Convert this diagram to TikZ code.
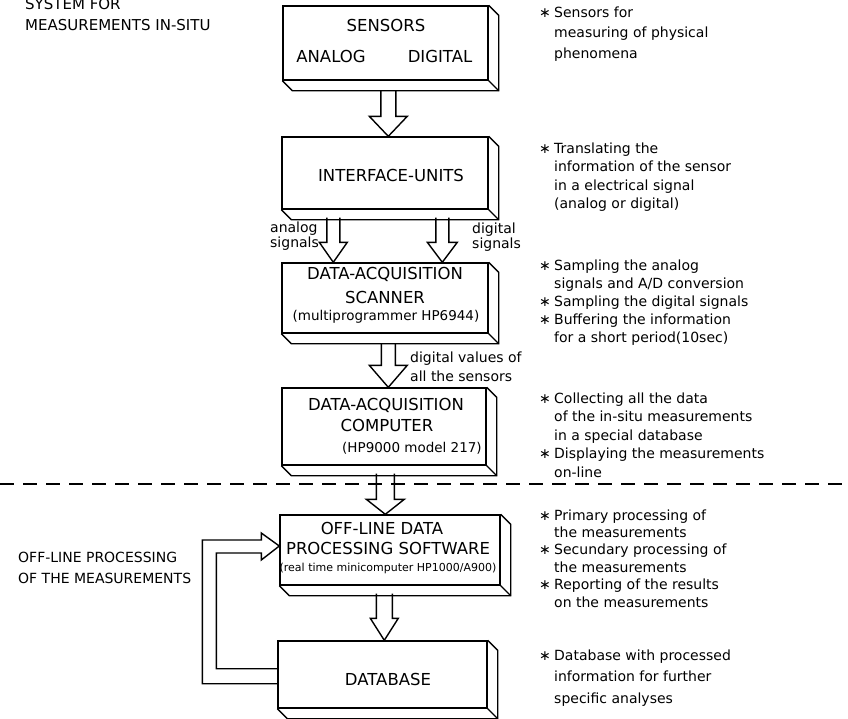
\documentclass[tikz,border=0pt]{standalone}
\usepackage{fontspec}
\setmainfont{DejaVu Sans}
\usetikzlibrary{calc}
\newcommand\Tfont{\fontsize{16.5}{18}\selectfont}
\newcommand\Sfont{\fontsize{13.5}{15}\selectfont}
\newcommand\bl{\makebox[15pt][l]{∗}}
\newcommand\ind{\hspace*{15pt}}
\tikzset{
  edge/.style={line width=1.4pt, line join=miter},
  boxnode/.style={draw, edge, rectangle, inner sep=0pt},
  blk/.style={draw, line width=1.4pt, line join=miter},
  lbl/.style={inner sep=0pt, anchor=base west, align=left},
  ctxt/.style={inner sep=0pt},
}
\newcommand\extrude[1]{%
  \draw[edge] (#1.north east) -- ++(10,10) -- ($(#1.south east)+(10,10)$) -- ($(#1.south west)+(10,10)$) -- (#1.south west);
  \draw[edge] (#1.south east) -- ++(10,10);}
% #1 shaft half width, #2 head half width, #3 head length, #4 start, #5 end
\newcommand\barrow[5]{%
  \draw[blk] let \p1=#4, \p2=#5 in
    (\x1-#1pt,\y1) -- (\x1-#1pt,\y2+#3pt) -- (\x1-#2pt,\y2+#3pt) -- (\x1,\y2)
    -- (\x1+#2pt,\y2+#3pt) -- (\x1+#1pt,\y2+#3pt) -- (\x1+#1pt,\y1);}
\begin{document}
\begin{tikzpicture}[x=1pt,y=-1pt]
\useasboundingbox (0,0) rectangle (848,718);
\clip (0,0) rectangle (848,718);
\fill[white] (0,0) rectangle (848,718);

% boxes
\node[boxnode, minimum width=205pt, minimum height=74pt] (sens) at (385.5,43) {};
\node[boxnode, minimum width=206pt, minimum height=72pt] (intf) at (385,173) {};
\node[boxnode, minimum width=206pt, minimum height=70pt] (scan) at (385,298) {};
\node[boxnode, minimum width=204pt, minimum height=77pt] (comp) at (384,426.5) {};
\node[boxnode, minimum width=220pt, minimum height=70pt] (off) at (390,550) {};
\node[boxnode, minimum width=209pt, minimum height=67pt] (db) at (382.5,674.5) {};
\extrude{sens}\extrude{intf}\extrude{scan}\extrude{comp}\extrude{off}\extrude{db}

% box texts
\node[ctxt] (sensT) at (386,25) {\Tfont SENSORS};
\node[ctxt] (sensA) at (331,56) {\Tfont ANALOG};
\node[ctxt] (sensD) at (440,56) {\Tfont DIGITAL};
\node[ctxt] (intfT) at (391,175) {\Tfont INTERFACE-UNITS};
\node[ctxt] (scanT1) at (385,274) {\Tfont DATA-ACQUISITION};
\node[ctxt] (scanT2) at (385,297) {\Tfont SCANNER};
\node[ctxt] (scanT3) at (386,317) {\Sfont (multiprogrammer HP6944)};
\node[ctxt] (compT1) at (386,405) {\Tfont DATA-ACQUISITION};
\node[ctxt] (compT2) at (387,425) {\Tfont COMPUTER};
\node[ctxt] (compT3) at (412,448) {\Sfont (HP9000 model 217)};
\node[ctxt] (offT1) at (382,528) {\Tfont OFF-LINE DATA};
\node[ctxt] (offT2) at (388,548) {\Tfont PROCESSING SOFTWARE};
\node[ctxt] (offT3) at (388,568) {\fontsize{11}{12}\selectfont (real time minicomputer HP1000/A900)};
\node[ctxt] (dbT) at (388,679) {\Tfont DATABASE};

% block arrows
\barrow{7.5}{19}{20}{($(sens.south west)+(106,10)$)}{(intf.north)}
\barrow{6.5}{14}{20}{($(intf.south west)+(52,8)$)}{(scan.north)}
\barrow{6.5}{15}{20}{($(intf.south west)+(161,8)$)}{(scan.north)}
\barrow{7}{19}{22}{($(scan.south west)+(107,10)$)}{(comp.north)}
\barrow{9}{19}{15}{($(comp.south west)+(104,8)$)}{(off.north)}
\barrow{8}{14}{22}{($(off.south west)+(105,8)$)}{(db.north)}

% feedback loop
\coordinate (fbtip) at ($(off.west)+(0,-4)$);
\coordinate (fbo) at ($(db.south west)+(0,-25)$);
\coordinate (fbi) at ($(db.south west)+(0,-40)$);
\draw[blk] (fbo) -- ++(-75,0) |- ($(fbtip)+(-18,-6)$) -- ++(0,-7) -- (fbtip)
  -- ++(-18,14) -- ++(0,-7) -| ($(fbi)+(-61,0)$) -- (fbi);

% dashed separator
\coordinate (dl) at (0,484);
\coordinate (dr) at (848,484);
\draw[line width=1.4pt, dash pattern=on 14pt off 9pt] (dl) -- (dr);

% arrow labels (anchor = baseline of last line)
\node[lbl, font={\fontsize{14}{15}\selectfont}] (anl) at (270,247) {analog\\signals};
\node[lbl, font={\fontsize{14}{15}\selectfont}] (dgl) at (472,248) {digital\\signals};
\node[lbl, font={\fontsize{14}{19}\selectfont}] (dvl) at (410,381) {digital values of\\all the sensors};

% left titles
\node[lbl, font={\fontsize{15}{21}\selectfont}] (sys) at (25,30) {SYSTEM FOR\\MEASUREMENTS IN-SITU};
\node[lbl, font={\fontsize{14}{21}\selectfont}] (offl) at (18,583) {OFF-LINE PROCESSING\\OF THE MEASUREMENTS};

% right descriptions
\node[lbl, font={\fontsize{14}{20.5}\selectfont}] (d1) at (539,58) {\bl Sensors for\\ \ind measuring of physical\\ \ind phenomena};
\node[lbl, font={\fontsize{14}{18.5}\selectfont}] (d2) at (539,208.5) {\bl Translating the\\ \ind information of the sensor\\ \ind in a electrical signal\\ \ind (analog or digital)};
\node[lbl, font={\fontsize{14}{18}\selectfont}] (d3) at (539,342) {\bl Sampling the analog\\ \ind signals and A/D conversion\\ \bl Sampling the digital signals\\ \bl Buffering the information\\ \ind for a short period(10sec)};
\node[lbl, font={\fontsize{14}{18.5}\selectfont}] (d4) at (539,477) {\bl Collecting all the data\\ \ind of the in-situ measurements\\ \ind in a special database\\ \bl Displaying the measurements\\ \ind on-line};
\node[lbl, font={\fontsize{14}{17.4}\selectfont}] (d5) at (539,607) {\bl Primary processing of\\ \ind the measurements\\ \bl Secundary processing of\\ \ind the measurements\\ \bl Reporting of the results\\ \ind on the measurements};
\node[lbl, font={\fontsize{14}{21.5}\selectfont}] (d6) at (539,703) {\bl Database with processed\\ \ind information for further\\ \ind specific analyses};
\end{tikzpicture}
\end{document}
